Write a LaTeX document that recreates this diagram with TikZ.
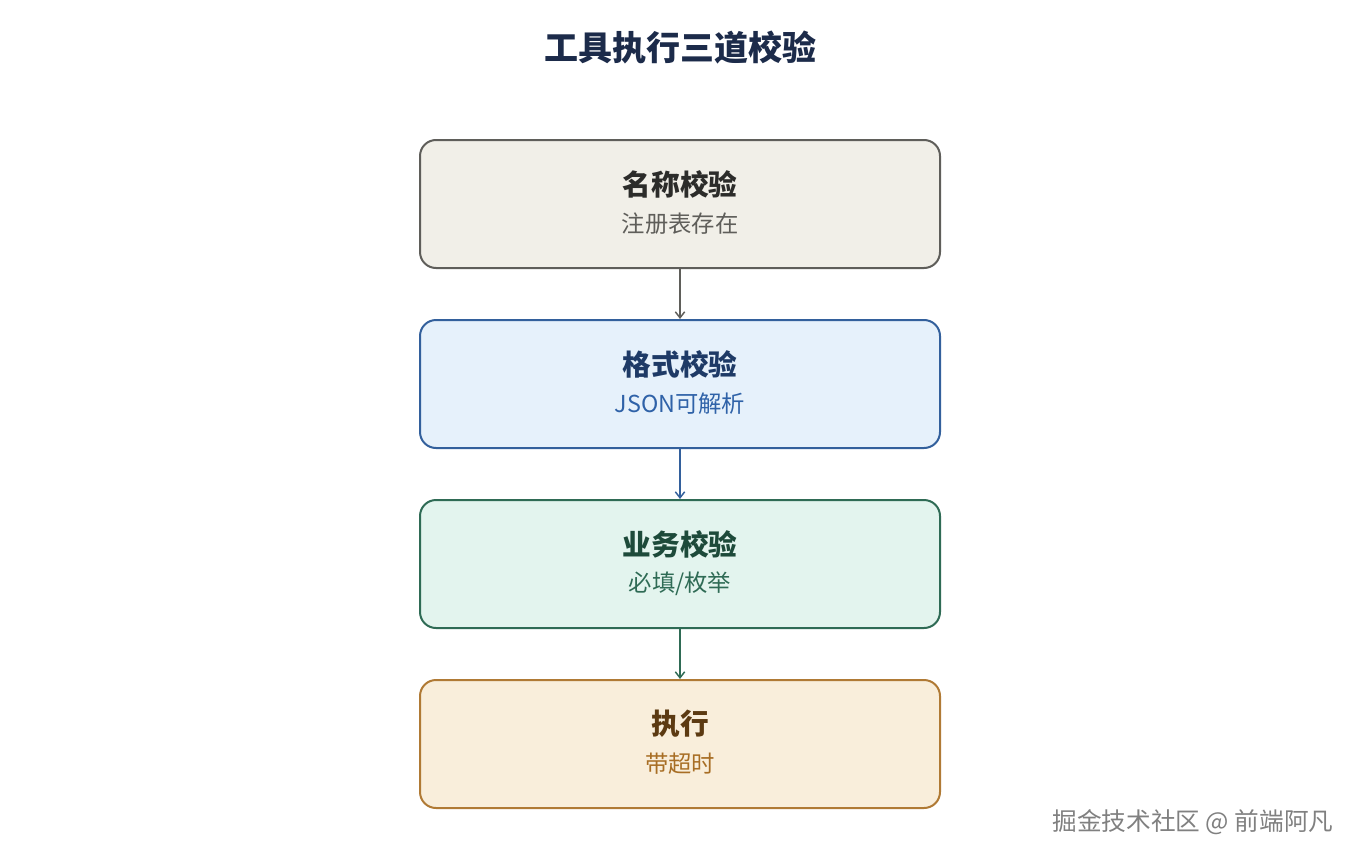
\documentclass[tikz,border=0pt]{standalone}
\usepackage{fontspec}
\usepackage{xcolor}
\usetikzlibrary{arrows.meta,positioning}
\newfontfamily\cjk{Noto Sans CJK SC}
\definecolor{heading}{HTML}{1C2B4A}
\definecolor{grayfill}{HTML}{F1EFE8}
\definecolor{grayline}{HTML}{5F5E5A}
\definecolor{graytitle}{HTML}{2C2C2A}
\definecolor{bluefill}{HTML}{E6F1FB}
\definecolor{blueline}{HTML}{33609C}
\definecolor{bluetitle}{HTML}{1E3A66}
\definecolor{bluesub}{HTML}{2F62A8}
\definecolor{greenfill}{HTML}{E3F4EE}
\definecolor{greenline}{HTML}{2F6B55}
\definecolor{greentitle}{HTML}{1D4A3A}
\definecolor{greensub}{HTML}{2F6B55}
\definecolor{goldfill}{HTML}{F9EEDB}
\definecolor{goldline}{HTML}{B07A35}
\definecolor{goldtitle}{HTML}{5C3A12}
\definecolor{goldsub}{HTML}{A86E25}

\begin{document}
\begin{tikzpicture}[x=0.75pt,y=-0.75pt,
  stage/.style={draw=#1line,fill=#1fill,line width=1.5pt,rounded corners=12pt,
    minimum width=390pt,minimum height=96pt,inner sep=0pt},
  stagetitle/.style={text=#1,font=\cjk\bfseries\fontsize{21.5}{24}\selectfont},
  stagesub/.style={text=#1,font=\cjk\fontsize{17.5}{20}\selectfont},
  flow/.style={draw=#1,line width=1.1pt,-{Straight Barb[length=4.5pt,width=7pt]}}]
\useasboundingbox (0,0) rectangle (1360,860);
\node[text=heading,font=\cjk\bfseries\fontsize{25.5}{30}\selectfont] (heading) at (680,48) {工具执行三道校验};

\node[stage=gray] (name) at (680,204) {};
\node[stagetitle=graytitle] (nametitle) at (680,184) {名称校验};
\node[stagesub=grayline] (namesub) at (680,224) {注册表存在};

\node[stage=blue] (format) at (680,384) {};
\node[stagetitle=bluetitle] (formattitle) at (680,364) {格式校验};
\node[stagesub=bluesub] (formatsub) at (680,404) {JSON可解析};

\node[stage=green] (business) at (680,564) {};
\node[stagetitle=greentitle] (businesstitle) at (680,544) {业务校验};
\node[stagesub=greensub] (businesssub) at (680,584) {必填/枚举};

\node[stage=gold] (run) at (680,744) {};
\node[stagetitle=goldtitle] (runtitle) at (680,724) {执行};
\node[stagesub=goldsub] (runsub) at (680,764) {带超时};

\draw[flow=grayline] (name) -- (format);
\draw[flow=blueline] (format) -- (business);
\draw[flow=greenline] (business) -- (run);

\node[text=black!50,font=\cjk\fontsize{18.5}{22}\selectfont] (mark) at (1193,822) {掘金技术社区 @ 前端阿凡};
\end{tikzpicture}
\end{document}
